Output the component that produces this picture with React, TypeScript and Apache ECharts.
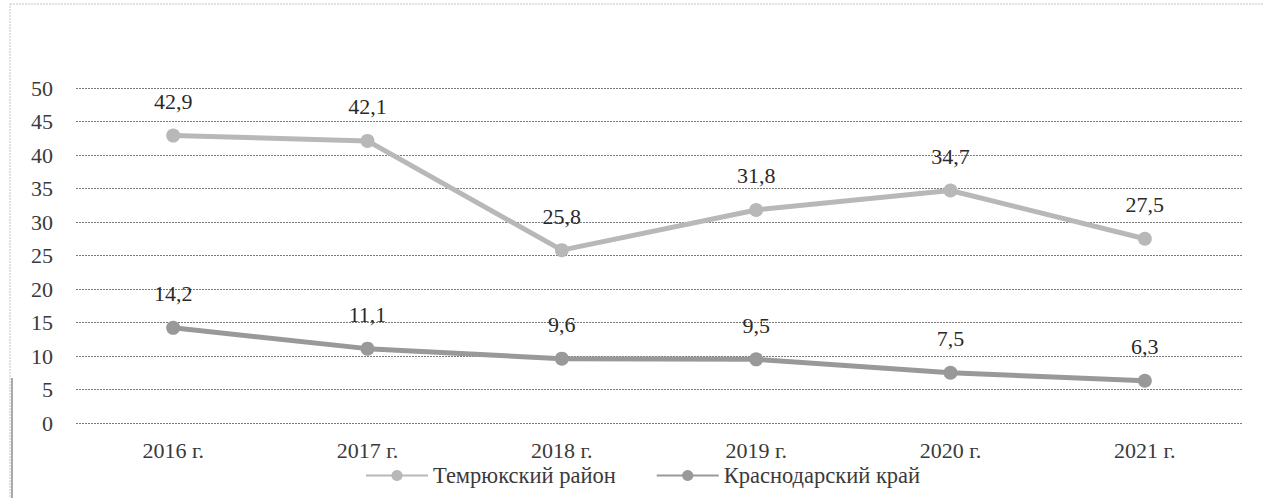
import React, { useEffect, useRef } from "react";
import * as echarts from "echarts";

const categories = ["2016 г.", "2017 г.", "2018 г.", "2019 г.", "2020 г.", "2021 г."];
const temryukValues = [42.9, 42.1, 25.8, 31.8, 34.7, 27.5];
const krasnodarValues = [14.2, 11.1, 9.6, 9.5, 7.5, 6.3];
const seriesNames = ["Темрюкский район", "Краснодарский край"];

const FONT = "Liberation Serif";

export default function App() {
  const ref = useRef<HTMLDivElement>(null);
  useEffect(() => {
    if (!ref.current) return;
    const chart = echarts.init(ref.current, null, { renderer: "svg" });
    const labelStyle = {
      show: true,
      position: "top" as const,
      distance: 16,
      fontFamily: FONT,
      fontSize: 22,
      color: "#2a2a2a",
      formatter: (p: any) => String(p.value).replace(".", ","),
    };
    chart.setOption({
      animation: false,
      backgroundColor: "#fff",
      textStyle: { fontFamily: FONT },
      graphic: [
        {
          type: "rect",
          shape: { x: 10, y: 4, width: 1270, height: 520 },
          style: { fill: "none", stroke: "#c4c4c4", lineWidth: 1, lineDash: [2, 1] },
          silent: true,
        },
        {
          type: "line",
          shape: { x1: 12, y1: 378, x2: 12, y2: 498 },
          style: { stroke: "#aaaaaa", lineWidth: 2 },
          silent: true,
        },
      ],
      grid: { left: 76, right: 21, top: 88, bottom: 75, containLabel: false },
      xAxis: {
        type: "category",
        data: categories,
        boundaryGap: true,
        axisLine: { show: false },
        axisTick: { show: false },
        axisLabel: { fontFamily: FONT, fontSize: 22, color: "#3a3a3a", margin: 16 },
      },
      yAxis: {
        type: "value",
        min: 0,
        max: 50,
        interval: 5,
        axisLine: { show: false },
        axisTick: { show: false },
        axisLabel: { fontFamily: FONT, fontSize: 22, color: "#3a3a3a", margin: 23 },
        splitLine: { lineStyle: { color: "#7a7a7a", width: 1.2, type: [2, 1] } },
      },
      legend: {
        top: 459,
        left: 360,
        itemGap: 40,
        itemWidth: 62,
        itemHeight: 14,
        textStyle: { fontFamily: FONT, fontSize: 22.5, color: "#3a3a3a" },
        data: seriesNames,
      },
      series: [
        {
          name: seriesNames[0],
          type: "line",
          data: temryukValues,
          symbol: "circle",
          symbolSize: 14,
          lineStyle: { color: "#b8b8b8", width: 5 },
          itemStyle: { color: "#b8b8b8" },
          label: labelStyle,
        },
        {
          name: seriesNames[1],
          type: "line",
          data: krasnodarValues,
          symbol: "circle",
          symbolSize: 14,
          lineStyle: { color: "#999999", width: 5 },
          itemStyle: { color: "#999999" },
          label: labelStyle,
        },
      ],
    });
    return () => chart.dispose();
  }, []);
  return (
    <div
      ref={ref}
      style={{ position: "fixed", left: 0, top: 0, width: 1263, height: 498 }}
    />
  );
}
